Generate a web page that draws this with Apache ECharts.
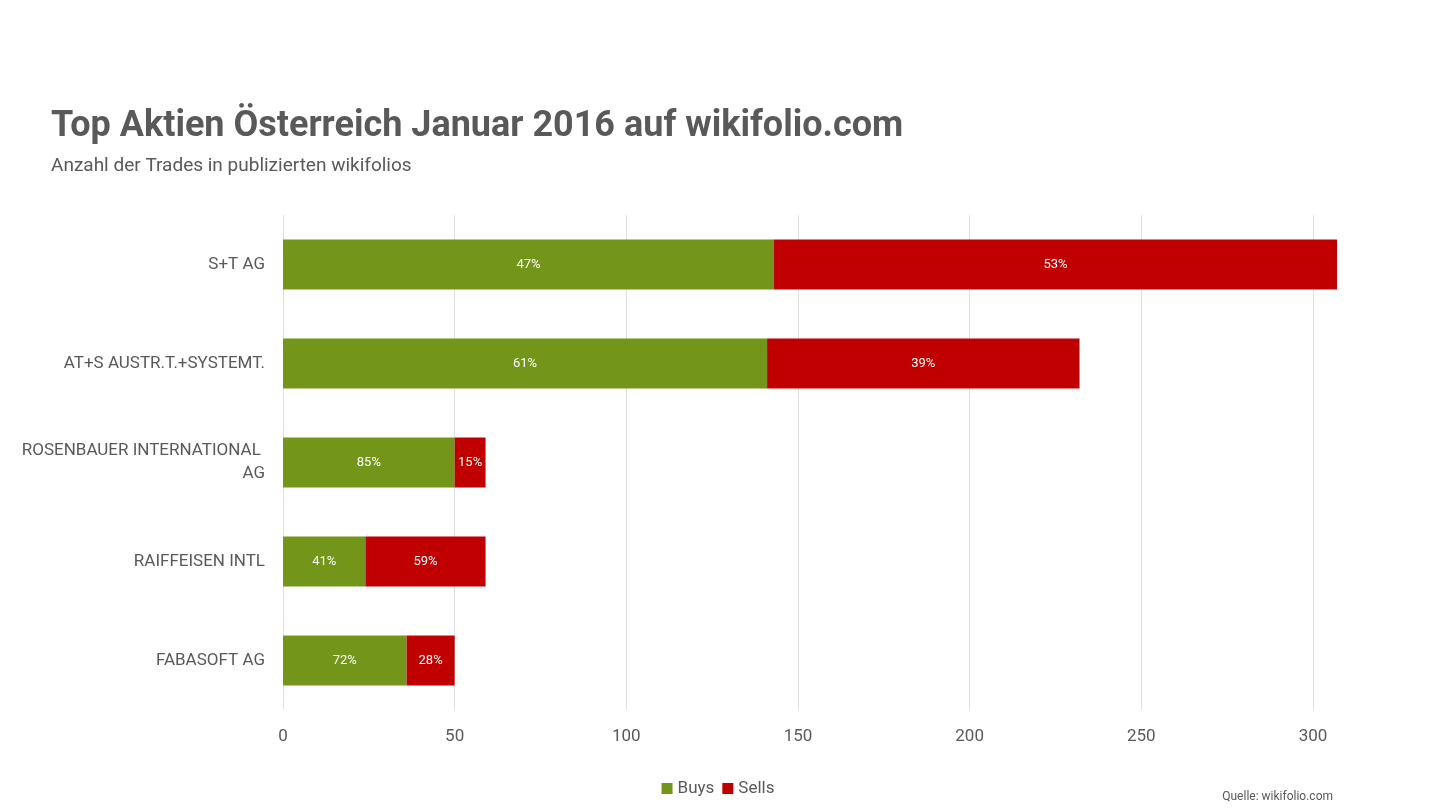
<!DOCTYPE html>
<html><head><meta charset="utf-8">
<script src="https://cdn.jsdelivr.net/npm/echarts@6/dist/echarts.min.js"></script>
<style>html,body{margin:0;padding:0;background:#fff}#c{width:1436px;height:810px}</style>
</head><body><div id="c"></div>
<script>
const categories = ['S+T AG','AT+S AUSTR.T.+SYSTEMT.','ROSENBAUER INTERNATIONAL AG','RAIFFEISEN INTL','FABASOFT AG'];
const buys = [143, 141, 50, 24, 36];
const sells = [164, 91, 9, 35, 14];
const ticks = [0, 50, 100, 150, 200, 250, 300];
const F = '"Liberation Sans Narrow", "Roboto", sans-serif';
const pct = (a, b) => Math.round(a / (a + b) * 100) + '%';
const chart = echarts.init(document.getElementById('c'));
chart.setOption({
  animation: false,
  title: [
    {text: 'Top Aktien Österreich Januar 2016 auf wikifolio.com', left: 46, top: 104,
     textStyle: {fontFamily: F, fontWeight: 'bold', fontSize: 36, color: '#595959'}},
    {text: 'Anzahl der Trades in publizierten wikifolios', left: 46, top: 152,
     textStyle: {fontFamily: F, fontWeight: 'normal', fontSize: 19, color: '#595959'}},
    {text: 'Quelle: wikifolio.com', right: 98, top: 786,
     textStyle: {fontFamily: F, fontWeight: 'normal', fontSize: 12, color: '#595959'}}
  ],
  legend: {bottom: 8, left: 'center', itemWidth: 11, itemHeight: 11, icon: 'rect',
    textStyle: {fontFamily: F, fontSize: 17, color: '#595959'}, data: ['Buys', 'Sells']},
  grid: {left: 283, right: 99, top: 215, bottom: 100, containLabel: false, outerBoundsMode: 'none'},
  xAxis: {type: 'value', min: 0, max: 307, interval: 50,
    axisLine: {show: false}, axisTick: {show: false},
    splitLine: {lineStyle: {color: '#e0e0e0'}, showMaxLine: false},
    axisLabel: {fontFamily: F, fontSize: 17, color: '#595959', margin: 18,
      formatter: v => ticks.includes(v) ? String(v) : ''}},
  yAxis: {type: 'category', inverse: true, data: categories,
    axisLine: {show: false}, axisTick: {show: false},
    axisLabel: {fontFamily: F, fontSize: 17, color: '#595959', margin: 18, width: 250, overflow: 'break', align: 'right', lineHeight: 23}},
  series: [
    {name: 'Buys', type: 'bar', stack: 's', barWidth: 50, data: buys, itemStyle: {color: '#739519'},
     label: {show: true, position: 'inside', color: '#fff', fontFamily: F, fontSize: 13,
       formatter: p => pct(buys[p.dataIndex], sells[p.dataIndex])}},
    {name: 'Sells', type: 'bar', stack: 's', barWidth: 50, data: sells, itemStyle: {color: '#c00000'},
     label: {show: true, position: 'inside', color: '#fff', fontFamily: F, fontSize: 13,
       formatter: p => pct(sells[p.dataIndex], buys[p.dataIndex])}}
  ]
});
</script></body></html>
